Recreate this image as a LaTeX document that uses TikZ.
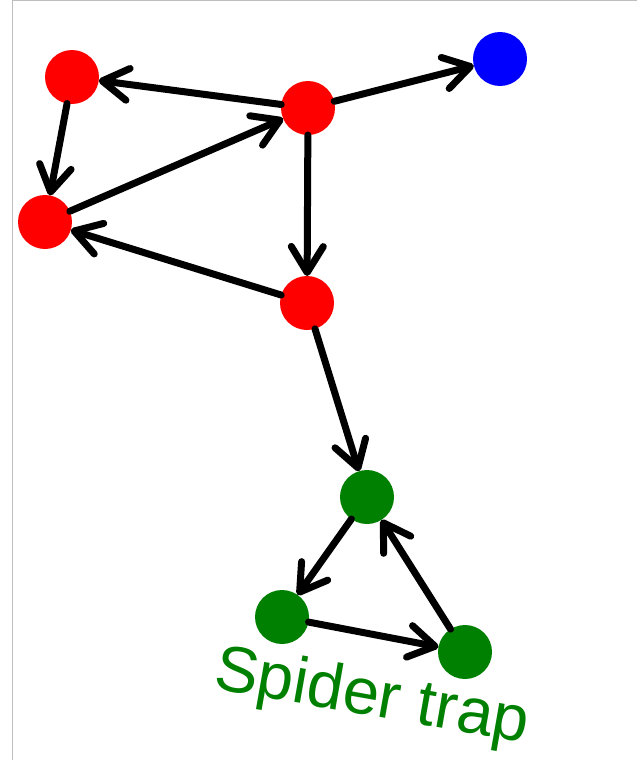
\documentclass[tikz,border=0pt]{standalone}
\usepackage{fontspec}
\setmainfont{Liberation Sans}
\usetikzlibrary{arrows.meta}
\definecolor{webgreen}{RGB}{0,128,0}
\definecolor{framegray}{RGB}{190,190,190}
\begin{document}
\begin{tikzpicture}[x=1pt,y=-1pt,
  vert/.style={circle,minimum size=54pt,inner sep=0pt,outer sep=0pt},
  redv/.style={vert,fill=red},
  bluev/.style={vert,fill=blue},
  greenv/.style={vert,fill=webgreen},
  link/.style={line width=7pt,-{Straight Barb[length=26pt,width=32pt,line cap=round,line join=round]},line cap=round},
  framebox/.style={framegray,line width=1.2pt}]
\fill[white] (0,0) rectangle (637,760);
\useasboundingbox (0,0) rectangle (637,760);
\draw[framebox] (12.5,760) -- (12.5,0.6) -- (637,0.6);
\node[redv] (a) at (72,77) {};
\node[redv] (b) at (308,108) {};
\node[bluev] (u) at (500,59) {};
\node[redv] (c) at (45,222) {};
\node[redv] (d) at (307,303) {};
\node[greenv] (e) at (367,497) {};
\node[greenv] (f) at (282,617) {};
\node[greenv] (g) at (465,652) {};
\draw[link] (b) -- (a);
\draw[link] (a) -- (c);
\draw[link] (c) -- (b);
\draw[link] (b) -- (u);
\draw[link] (b) -- (d);
\draw[link] (d) -- (c);
\draw[link] (d) -- (e);
\draw[link] (e) -- (f);
\draw[link] (f) -- (g);
\draw[link] (g) -- (e);
\node[webgreen,font=\fontsize{65}{68}\selectfont,anchor=base west,rotate=-10,inner sep=0pt] (lbl) at (212,688) {Spider trap};
\end{tikzpicture}
\end{document}
